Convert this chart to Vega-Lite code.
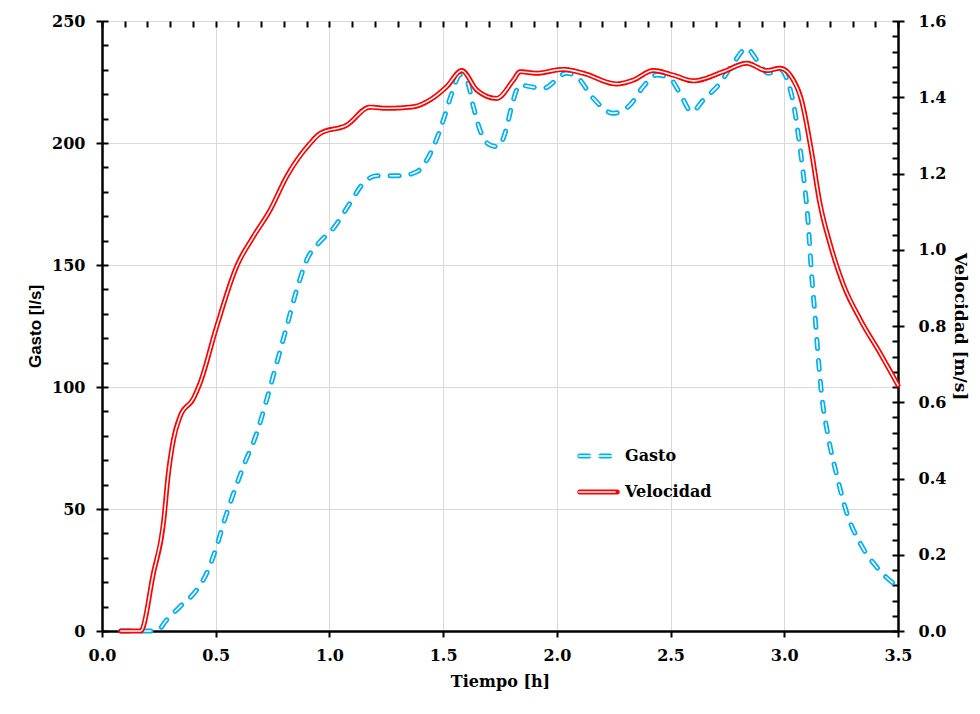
{
  "$schema": "https://vega.github.io/schema/vega-lite/v6.json",
  "width": 796,
  "height": 610,
  "autosize": {"type": "none"},
  "padding": {"left": 102, "top": 21, "right": 82, "bottom": 83},
  "background": "white",
  "config": {
    "view": {"stroke": null},
    "axis": {
      "labelFont": "DejaVu Serif",
      "labelFontWeight": "bold",
      "labelFontSize": 16,
      "labelColor": "#000000",
      "labelFlush": false,
      "labelOverlap": false,
      "titleColor": "#000000",
      "tickColor": "#000000",
      "domainColor": "#000000",
      "tickWidth": 2,
      "domainWidth": 2.5,
      "gridColor": "#d9d9d9",
      "gridWidth": 1
    }
  },
  "datasets": {
    "gasto": [
      {"t": 0.083, "q": 0}, {"t": 0.15, "q": 0}, {"t": 0.24, "q": 0}, {"t": 0.284, "q": 4.5},
      {"t": 0.343, "q": 10}, {"t": 0.416, "q": 16.8}, {"t": 0.46, "q": 23.6}, {"t": 0.504, "q": 34.6},
      {"t": 0.534, "q": 44.1}, {"t": 0.563, "q": 52.3}, {"t": 0.621, "q": 67.3}, {"t": 0.68, "q": 81},
      {"t": 0.724, "q": 94.7}, {"t": 0.768, "q": 109.7}, {"t": 0.812, "q": 124.7}, {"t": 0.856, "q": 139.8},
      {"t": 0.9, "q": 152}, {"t": 0.959, "q": 159.6}, {"t": 1.017, "q": 165}, {"t": 1.09, "q": 175.3},
      {"t": 1.149, "q": 183.5}, {"t": 1.208, "q": 186.6}, {"t": 1.31, "q": 186.6}, {"t": 1.384, "q": 188.2},
      {"t": 1.428, "q": 193}, {"t": 1.464, "q": 199.9}, {"t": 1.501, "q": 209.4}, {"t": 1.538, "q": 220.4},
      {"t": 1.574, "q": 227.9}, {"t": 1.604, "q": 225.8}, {"t": 1.633, "q": 214.9}, {"t": 1.662, "q": 205.3},
      {"t": 1.706, "q": 199.2}, {"t": 1.743, "q": 198.5}, {"t": 1.772, "q": 204}, {"t": 1.801, "q": 214.9},
      {"t": 1.823, "q": 221.7}, {"t": 1.838, "q": 223.8}, {"t": 1.882, "q": 223.1}, {"t": 1.94, "q": 222.4},
      {"t": 2.043, "q": 228.6}, {"t": 2.087, "q": 227.2}, {"t": 2.16, "q": 218.3}, {"t": 2.248, "q": 212.2},
      {"t": 2.322, "q": 215.6}, {"t": 2.38, "q": 223.1}, {"t": 2.439, "q": 227.9}, {"t": 2.497, "q": 226.5},
      {"t": 2.541, "q": 220.4}, {"t": 2.593, "q": 212.8}, {"t": 2.644, "q": 217.6}, {"t": 2.717, "q": 224.5},
      {"t": 2.776, "q": 232.7}, {"t": 2.835, "q": 238.8}, {"t": 2.879, "q": 234}, {"t": 2.93, "q": 228.6},
      {"t": 2.981, "q": 230.2}, {"t": 3.018, "q": 224.5}, {"t": 3.04, "q": 216.3}, {"t": 3.067, "q": 199.7},
      {"t": 3.089, "q": 182.8}, {"t": 3.104, "q": 168.6}, {"t": 3.119, "q": 147.5}, {"t": 3.134, "q": 130.5},
      {"t": 3.148, "q": 113.6}, {"t": 3.163, "q": 98}, {"t": 3.193, "q": 79.7}, {"t": 3.23, "q": 64.1},
      {"t": 3.274, "q": 48.6}, {"t": 3.334, "q": 35.9}, {"t": 3.408, "q": 26}, {"t": 3.5, "q": 18}
    ],
    "velocidad": [
      {"t": 0.083, "v": 0}, {"t": 0.17, "v": 0}, {"t": 0.226, "v": 0.151}, {"t": 0.27, "v": 0.283},
      {"t": 0.292, "v": 0.414}, {"t": 0.314, "v": 0.501}, {"t": 0.343, "v": 0.562}, {"t": 0.402, "v": 0.61},
      {"t": 0.431, "v": 0.65}, {"t": 0.504, "v": 0.798}, {"t": 0.592, "v": 0.956}, {"t": 0.665, "v": 1.034},
      {"t": 0.739, "v": 1.104}, {"t": 0.812, "v": 1.192}, {"t": 0.915, "v": 1.279}, {"t": 0.959, "v": 1.305},
      {"t": 1.076, "v": 1.327}, {"t": 1.178, "v": 1.374}, {"t": 1.252, "v": 1.371}, {"t": 1.369, "v": 1.375},
      {"t": 1.442, "v": 1.393}, {"t": 1.516, "v": 1.428}, {"t": 1.582, "v": 1.47}, {"t": 1.648, "v": 1.419},
      {"t": 1.735, "v": 1.397}, {"t": 1.809, "v": 1.445}, {"t": 1.838, "v": 1.467}, {"t": 1.911, "v": 1.463},
      {"t": 2.028, "v": 1.473}, {"t": 2.116, "v": 1.463}, {"t": 2.263, "v": 1.435}, {"t": 2.336, "v": 1.445},
      {"t": 2.424, "v": 1.47}, {"t": 2.512, "v": 1.458}, {"t": 2.6, "v": 1.443}, {"t": 2.732, "v": 1.467},
      {"t": 2.835, "v": 1.489}, {"t": 2.923, "v": 1.47}, {"t": 2.981, "v": 1.476}, {"t": 3.04, "v": 1.445},
      {"t": 3.074, "v": 1.396}, {"t": 3.119, "v": 1.26}, {"t": 3.156, "v": 1.124}, {"t": 3.201, "v": 1.016},
      {"t": 3.26, "v": 0.908}, {"t": 3.334, "v": 0.817}, {"t": 3.423, "v": 0.727}, {"t": 3.5, "v": 0.645}
    ]
  },
  "layer": [
    {
      "data": {"name": "gasto"},
      "mark": {"type": "line", "interpolate": "monotone", "strokeWidth": 5, "strokeCap": "round"},
      "encoding": {
        "x": {"field": "t", "type": "quantitative", "scale": {"domain": [0, 3.5], "nice": false},
          "axis": {"values": [0, 0.5, 1, 1.5, 2, 2.5, 3, 3.5], "format": ".1f", "tickSize": 6, "labelPadding": 10, "grid": true,
            "title": "Tiempo [h]", "titleFont": "DejaVu Serif", "titleFontWeight": "bold", "titleFontSize": 16, "titlePadding": 10}},
        "y": {"field": "q", "type": "quantitative", "scale": {"domain": [0, 250], "nice": false},
          "axis": {"orient": "left", "values": [0, 50, 100, 150, 200, 250], "tickSize": 6, "labelPadding": 11, "grid": true,
            "title": "Gasto [l/s]", "titleFont": "Liberation Sans", "titleFontWeight": "bold", "titleFontSize": 17, "titlePadding": 7}},
        "stroke": {"datum": "Gasto", "type": "nominal",
          "scale": {"domain": ["Gasto", "Velocidad"], "range": ["#00B0F0", "#FF0000"]},
          "legend": {"orient": "none", "legendX": 475, "legendY": 417, "title": null, "symbolType": "stroke", "symbolSize": 1400,
            "symbolStrokeWidth": 5, "labelFont": "DejaVu Serif", "labelFontWeight": "bold", "labelFontSize": 16, "labelColor": "#000000",
            "labelOffset": 5, "clipHeight": 36, "rowPadding": 0, "padding": 0,
            "encode": {"symbols": {"update": {"strokeCap": {"value": "round"}}}}}},
        "strokeDash": {"datum": "Gasto", "type": "nominal",
          "scale": {"domain": ["Gasto", "Velocidad"], "range": [[9, 12], [1, 0]]},
          "legend": {"orient": "none", "legendX": 475, "legendY": 417, "title": null, "symbolType": "stroke", "symbolSize": 1400,
            "symbolStrokeWidth": 5, "labelFont": "DejaVu Serif", "labelFontWeight": "bold", "labelFontSize": 16, "labelColor": "#000000",
            "labelOffset": 5, "clipHeight": 36, "rowPadding": 0, "padding": 0,
            "encode": {"symbols": {"update": {"strokeCap": {"value": "round"}}}}}}
      }
    },
    {
      "data": {"name": "gasto"},
      "mark": {"type": "line", "interpolate": "monotone", "stroke": "white", "strokeCap": "round", "strokeDash": [9, 12]},
      "encoding": {
        "x": {"field": "t", "type": "quantitative", "scale": {"domain": [0, 3.5], "nice": false},
          "axis": {"values": [0, 0.1, 0.2, 0.3, 0.4, 0.5, 0.6, 0.7, 0.8, 0.9, 1, 1.1, 1.2, 1.3, 1.4, 1.5, 1.6, 1.7, 1.8, 1.9, 2, 2.1, 2.2, 2.3, 2.4, 2.5, 2.6, 2.7, 2.8, 2.9, 3, 3.1, 3.2, 3.3, 3.4, 3.5],
            "tickSize": -6, "labels": false, "domain": false, "grid": false, "title": null}},
        "y": {"field": "q", "type": "quantitative", "scale": {"domain": [0, 250], "nice": false},
          "axis": {"orient": "left", "values": [0, 10, 20, 30, 40, 50, 60, 70, 80, 90, 100, 110, 120, 130, 140, 150, 160, 170, 180, 190, 200, 210, 220, 230, 240, 250],
            "tickSize": -6, "labels": false, "domain": false, "grid": false, "title": null}},
        "strokeWidth": {"datum": "g", "type": "nominal",
          "scale": {"domain": ["g", "v"], "range": [1.6, 1.6]},
          "legend": {"orient": "none", "legendX": 475, "legendY": 417, "title": null, "symbolType": "stroke", "symbolSize": 1400,
            "symbolStrokeColor": "white", "labelFont": "DejaVu Serif", "labelFontWeight": "bold", "labelFontSize": 16, "labelExpr": "''",
            "labelOffset": 5, "clipHeight": 36, "rowPadding": 0, "padding": 0, "zindex": 2}}
      }
    },
    {
      "data": {"name": "velocidad"},
      "mark": {"type": "line", "interpolate": "monotone", "strokeWidth": 5, "strokeCap": "round"},
      "encoding": {
        "x": {"field": "t", "type": "quantitative", "scale": {"domain": [0, 3.5], "nice": false}, "axis": null},
        "y": {"field": "v", "type": "quantitative", "scale": {"domain": [0, 1.6], "nice": false},
          "axis": {"orient": "right", "values": [0, 0.2, 0.4, 0.6, 0.8, 1, 1.2, 1.4, 1.6], "format": ".1f", "tickSize": 6, "labelPadding": 14, "grid": false,
            "title": "Velocidad [m/s]", "titleFont": "DejaVu Serif", "titleFontWeight": "bold", "titleFontSize": 17, "titlePadding": 5}},
        "stroke": {"datum": "Velocidad", "type": "nominal",
          "scale": {"domain": ["Gasto", "Velocidad"], "range": ["#00B0F0", "#FF0000"]},
          "legend": {"orient": "none", "legendX": 475, "legendY": 417, "title": null, "symbolType": "stroke", "symbolSize": 1400,
            "symbolStrokeWidth": 5, "labelFont": "DejaVu Serif", "labelFontWeight": "bold", "labelFontSize": 16, "labelColor": "#000000",
            "labelOffset": 5, "clipHeight": 36, "rowPadding": 0, "padding": 0,
            "encode": {"symbols": {"update": {"strokeCap": {"value": "round"}}}}}},
        "strokeDash": {"datum": "Velocidad", "type": "nominal",
          "scale": {"domain": ["Gasto", "Velocidad"], "range": [[9, 12], [1, 0]]},
          "legend": {"orient": "none", "legendX": 475, "legendY": 417, "title": null, "symbolType": "stroke", "symbolSize": 1400,
            "symbolStrokeWidth": 5, "labelFont": "DejaVu Serif", "labelFontWeight": "bold", "labelFontSize": 16, "labelColor": "#000000",
            "labelOffset": 5, "clipHeight": 36, "rowPadding": 0, "padding": 0,
            "encode": {"symbols": {"update": {"strokeCap": {"value": "round"}}}}}}
      }
    },
    {
      "data": {"name": "velocidad"},
      "mark": {"type": "line", "interpolate": "monotone", "stroke": "white", "strokeCap": "round"},
      "encoding": {
        "x": {"field": "t", "type": "quantitative", "scale": {"domain": [0, 3.5], "nice": false}, "axis": null},
        "y": {"field": "v", "type": "quantitative", "scale": {"domain": [0, 1.6], "nice": false},
          "axis": {"orient": "right", "values": [0, 0.04, 0.08, 0.12, 0.16, 0.2, 0.24, 0.28, 0.32, 0.36, 0.4, 0.44, 0.48, 0.52, 0.56, 0.6, 0.64, 0.68, 0.72, 0.76, 0.8, 0.84, 0.88, 0.92, 0.96, 1, 1.04, 1.08, 1.12, 1.16, 1.2, 1.24, 1.28, 1.32, 1.36, 1.4, 1.44, 1.48, 1.52, 1.56, 1.6],
            "tickSize": -6, "labels": false, "domain": false, "grid": false, "title": null}},
        "strokeWidth": {"datum": "v", "type": "nominal",
          "scale": {"domain": ["g", "v"], "range": [1.6, 1.6]},
          "legend": {"orient": "none", "legendX": 475, "legendY": 417, "title": null, "symbolType": "stroke", "symbolSize": 1400,
            "symbolStrokeColor": "white", "labelFont": "DejaVu Serif", "labelFontWeight": "bold", "labelFontSize": 16, "labelExpr": "''",
            "labelOffset": 5, "clipHeight": 36, "rowPadding": 0, "padding": 0, "zindex": 2}}
      }
    }
  ],
  "resolve": {
    "scale": {"y": "independent"},
    "axis": {"x": "independent", "y": "independent"}
  }
}
